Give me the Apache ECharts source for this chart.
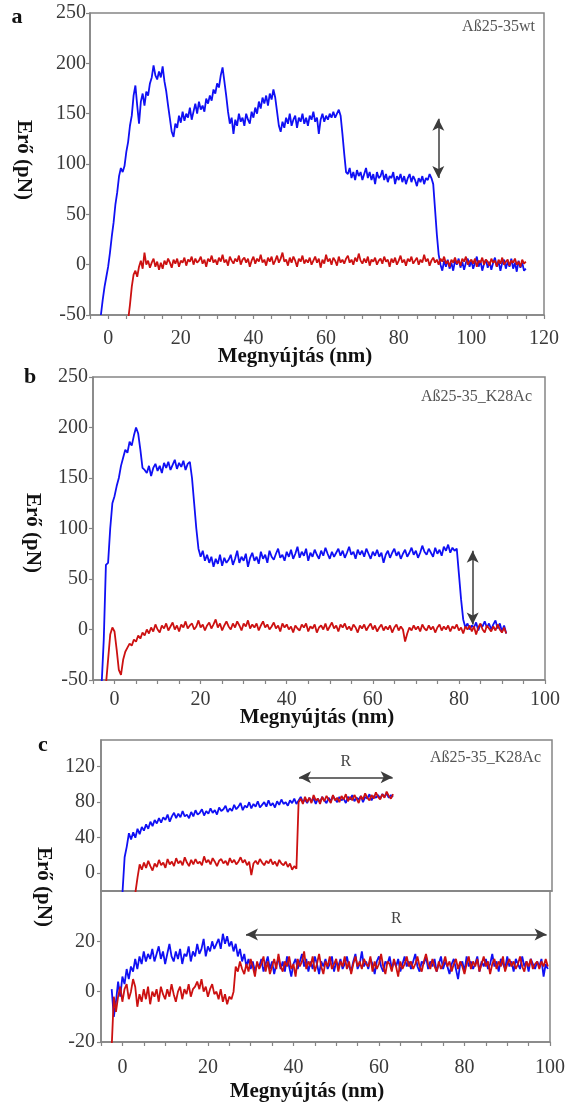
<!DOCTYPE html>
<html>
<head>
<meta charset="utf-8">
<title>Erő – megnyújtás görbék</title>
<script src="https://cdn.jsdelivr.net/npm/echarts@6/dist/echarts.min.js"></script>
<style>
  html, body { margin: 0; padding: 0; background: #ffffff; }
  #chart { width: 568px; height: 1105px; }
</style>
</head>
<body>
<div id="chart"></div>
<script>
// Force (pN) versus extension (nm) traces, sampled on a uniform extension grid.
// Each trace: start extension, step (nm) and the force readings.

// --- Panel a: Aß25-35wt ---
const aBlueStart = -2, aBlueStep = 0.5;
const aBlue = [
  -50,-35,-22,-12,-2,12,28,42,60,72,
  88,96,92,98,112,122,138,148,168,178,
  158,140,162,170,158,172,168,180,186,198,
  188,184,192,186,197,182,172,158,145,132,
  127,140,136,148,141,152,143,150,146,156,
  144,152,160,150,162,154,158,152,165,160,
  168,163,174,170,180,176,188,196,182,168,
  152,140,146,130,144,138,150,142,146,138,
  150,144,140,152,146,156,150,162,155,166,
  160,168,158,170,164,174,166,152,138,132,
  142,136,146,140,150,138,144,148,136,146,
  142,150,140,146,138,148,144,152,142,146,
  130,144,150,142,148,144,150,146,152,146,
  150,154,148,130,110,92,90,96,86,92,
  84,94,88,92,84,90,96,86,92,84,
  90,80,92,86,88,94,84,90,82,88,
  86,92,80,88,84,90,82,88,80,86,
  90,82,88,84,78,86,82,88,80,86,
  84,90,86,80,55,30,10,0,-6,4,
  -2,5,-4,2,-6,4,0,6,-3,3,
  -5,2,6,-2,4,-4,2,8,-2,4,
  -6,1,5,-3,3,-5,2,7,-2,3,
  -6,2,5,-4,3,-2,6,-4,2,-7,
  4,-3,2,-6,-4
];
const aRedStart = 5.5, aRedStep = 0.5;
const aRed = [
  -55,-40,-22,-10,-6,-12,-2,4,-4,12,
  0,4,-3,2,6,-2,3,-5,2,-4,
  4,0,6,2,-3,5,1,6,-2,4,
  2,7,-1,5,3,8,0,6,2,4,
  8,1,5,-2,6,3,9,2,5,0,
  7,3,10,2,5,-1,8,4,1,6,
  3,9,0,5,7,2,6,-2,4,8,
  1,6,3,10,2,5,-1,7,3,8,
  0,4,9,2,6,12,3,5,-1,7,
  2,8,4,-2,6,3,9,1,5,2,
  7,0,4,8,2,6,-3,5,1,10,
  3,6,0,7,4,-1,8,2,5,1,
  6,9,2,5,0,7,3,11,4,1,
  6,2,8,-1,5,3,7,0,4,6,
  1,8,3,5,-2,6,2,7,0,4,
  9,2,5,-1,6,3,8,1,4,7,
  0,5,2,10,3,6,-1,4,7,2,
  5,0,6,3,8,1,4,-2,5,2,
  7,1,4,-1,6,3,8,0,3,5,
  1,6,-2,4,2,7,0,5,3,-1,
  6,2,4,-2,5,1,7,0,3,5,
  -1,4,2,6,0,3,-2,5,1,3
];

// --- Panel b: Aß25-35_K28Ac ---
const bBlueStart = -3, bBlueStep = 0.5;
const bBlue = [
  -55,-10,64,66,100,125,132,142,150,162,
  170,178,175,186,182,192,200,194,178,160,
  158,155,162,152,160,164,157,162,155,165,
  160,166,158,163,168,159,165,161,167,158,
  164,166,150,125,100,80,72,78,68,74,
  66,72,62,70,65,74,63,71,66,69,
  74,64,70,78,66,72,68,75,62,71,
  76,68,72,65,77,70,74,66,78,72,
  69,75,80,71,74,68,77,72,79,70,
  75,82,71,77,73,80,68,76,72,79,
  74,70,78,73,81,75,70,77,72,76,
  80,73,78,71,76,82,74,77,70,79,
  74,78,72,80,75,70,77,73,79,72,
  76,66,74,78,71,76,80,73,77,70,
  75,79,72,76,81,74,78,71,76,83,
  77,74,80,76,72,81,75,79,73,82,
  78,84,76,81,78,80,55,30,10,2,
  6,0,4,2,7,-1,5,3,8,2,
  6,0,5,9,1,6,-2,4,-4
];
const bRedStart = -2, bRedStep = 0.5;
const bRed = [
  -55,-30,-5,2,-2,-20,-40,-45,-30,-22,
  -18,-14,-16,-10,-12,-6,-9,-3,-6,0,
  -4,2,-2,5,0,-3,4,1,6,-1,
  3,7,0,4,-2,5,2,8,1,4,
  6,0,3,9,2,5,-1,4,7,1,
  5,10,2,6,-1,4,8,3,0,6,
  2,8,4,-1,6,3,9,1,5,2,
  6,-1,4,8,2,5,0,3,7,1,
  4,-2,6,2,5,0,3,-3,4,1,
  -1,5,2,6,-2,3,1,5,-3,2,
  4,0,6,-1,3,7,1,4,-2,5,
  2,6,0,3,-1,5,2,-3,4,1,
  5,-1,3,6,0,4,-2,2,5,-1,
  3,0,4,-3,2,5,-1,3,0,-12,
  -4,2,-1,4,0,3,-2,5,1,-1,
  4,0,3,-3,2,5,-1,3,0,4,
  -2,3,1,5,-1,2,-4,3,0,4,
  -2,3,-5,2,6,0,-3,4,1,-2,
  3,-1,5,0,-3,2,-4
];

// --- Panel c, upper part ---
const cUpBlueStart = 0, cUpBlueStep = 0.5;
const cUpBlue = [
  -22,18,30,45,38,46,40,50,44,52,
  48,55,50,58,53,60,56,62,57,63,
  60,66,58,64,68,62,67,63,70,64,
  66,62,69,64,71,66,68,72,65,70,
  67,73,68,71,66,74,70,72,76,69,
  73,70,77,72,75,79,71,76,74,80,
  73,78,75,81,74,77,80,75,82,76,
  79,74,81,77,83,78,80,76,82,79,
  84,78,82,86,80,83,79,85,81,84,
  78,84,80,86,82,79,85,81,87,83,
  80,86,82,84,79,86,83,88,81,85,
  83,87,80,86,84,89,82,87,85,88,
  84,89,86,90,85,88,86
];
const cUpRedStart = 3, cUpRedStep = 0.5;
const cUpRed = [
  -22,-5,10,4,12,6,14,8,3,11,
  7,15,9,12,6,16,10,13,8,17,
  11,14,9,18,12,8,15,10,16,11,
  13,9,19,12,15,10,17,13,8,14,
  16,11,14,9,17,12,15,10,13,18,
  12,15,9,13,-2,11,14,10,16,12,
  9,14,11,16,10,13,8,15,11,9,
  13,7,11,4,8,5,80,84,78,86,
  80,85,79,88,82,84,78,86,81,87,
  83,79,88,82,85,80,87,83,89,81,
  86,82,88,84,79,87,83,90,85,82,
  88,84,91,86,83,89,85,92,87,84,
  89
];

// --- Panel c, lower part ---
const cLoBlueStart = -2.5, cLoBlueStep = 0.5;
const cLoBlue = [
  1,-10,-4,4,-2,6,3,9,5,10,
  8,13,9,14,11,16,12,15,13,17,
  12,15,18,13,16,11,15,19,14,12,
  16,13,17,11,15,14,18,12,16,14,
  19,15,17,21,14,18,16,20,17,19,
  21,17,23,19,22,18,20,16,19,14,
  17,12,15,10,13,9,12,8,11,10,
  13,8,11,14,9,12,7,11,13,9,
  12,8,14,10,6,11,13,9,12,15,
  10,13,8,12,9,14,11,7,12,10,
  13,9,11,14,8,12,10,13,9,11,
  14,10,8,12,15,9,11,16,10,12,
  9,13,11,7,12,14,10,8,12,11,
  14,9,12,10,13,8,11,14,10,12,
  9,12,15,10,8,12,11,14,9,12,
  10,13,8,11,14,9,12,10,7,11,
  13,9,5,11,12,8,14,10,12,9,
  11,14,8,12,10,13,9,11,15,10,
  12,8,13,11,9,14,10,12,8,13,
  11,9,14,10,12,8,13,11,9,12,
  10,13,6,11,9
];
const cLoRedStart = -2.5, cLoRedStep = 0.5;
const cLoRed = [
  -22,-2,-8,-2,2,-4,1,3,-3,0,
  5,2,-6,-1,-4,1,-3,2,-5,0,
  -2,1,-4,2,-1,-3,1,-2,3,-1,
  -4,0,2,-3,1,-1,3,-2,1,2,
  4,1,5,0,2,-2,1,3,-1,0,
  -3,1,-4,-1,-5,-2,-3,0,10,8,
  12,9,7,11,8,13,10,6,12,9,
  11,14,8,12,7,10,13,9,15,10,
  8,12,10,14,9,11,6,13,10,12,
  16,9,12,10,14,8,11,15,10,7,
  12,10,14,9,11,13,8,12,10,14,
  9,12,7,11,14,10,12,9,13,11,
  10,14,8,12,9,11,15,10,7,12,
  11,8,13,10,6,12,9,11,14,10,
  12,9,11,14,10,8,12,15,11,9,
  13,10,8,12,9,11,14,10,12,8,
  11,13,9,12,10,7,11,14,9,12,
  10,13,8,11,14,10,12,7,11,13,
  9,12,10,14,8,11,13,10,12,9,
  11,14,10,8,12,10,13,9,11,12,
  9,12,10,13,10
];

// Double-headed arrows (extension, force in data units)
const arrowA = { x: 90.9, from: 145, to: 86 };
const arrowB = { x: 83.2, from: 78, to: 5 };
const rangeUp = { from: 41.1, to: 62.9, y: 108 };
const rangeLo = { from: 28.9, to: 99.2, y: 22.7 };

// Axis tick labels
const xLabelStep = 20;
const cUpYLabels = [0, 40, 80, 120];
const cLoYLabels = [-20, 0, 20];

const texts = {
  xName: 'Megnyújtás (nm)',
  yName: 'Erő (pN)',
  sampleA: 'Aß25-35wt',
  sampleB: 'Aß25-35_K28Ac',
  sampleC: 'Aß25-35_K28Ac',
  rangeMark: 'R'
};

// ---------------------------------------------------------------
const SERIF = '"Liberation Serif", "Times New Roman", serif';
const AXIS_GRAY = '#858585';
const LABEL_GRAY = '#3a3a3a';
const BLUE = '#1010f4';
const RED = '#cc1111';

function toPoints(start, step, ys) {
  return ys.map((y, i) => [start + i * step, y]);
}

function xAxis(gridIndex, max, margin, showLabels) {
  return {
    type: 'value', gridIndex, min: -5, max, interval: 5,
    axisLine: { show: true, onZero: false, lineStyle: { color: AXIS_GRAY, width: 1.5 } },
    axisTick: { show: showLabels, length: 4, inside: false, lineStyle: { color: AXIS_GRAY, width: 1.2 } },
    axisLabel: {
      show: showLabels, margin, color: LABEL_GRAY, fontFamily: SERIF, fontSize: 20,
      showMinLabel: true, showMaxLabel: true,
      formatter: v => (Math.round(v) % xLabelStep === 0 ? String(Math.round(v)) : '')
    },
    splitLine: { show: false }
  };
}

function yAxis(gridIndex, min, max, interval, margin, extra) {
  return Object.assign({
    type: 'value', gridIndex, min, max, interval,
    axisLine: { show: true, onZero: false, lineStyle: { color: AXIS_GRAY, width: 1.5 } },
    axisTick: { show: true, length: 4, lineStyle: { color: AXIS_GRAY, width: 1.2 } },
    axisLabel: { margin, color: LABEL_GRAY, fontFamily: SERIF, fontSize: 20 },
    splitLine: { show: false }
  }, extra || {});
}

function arrowLine(p1, p2, label) {
  return {
    silent: true,
    animation: false,
    symbol: ['arrow', 'arrow'],
    symbolSize: [9, 12],
    lineStyle: { color: '#3c3c3c', width: 1.5, type: 'solid' },
    label: label ? {
      show: true, position: 'middle', formatter: label, distance: 8,
      color: '#444', fontFamily: SERIF, fontSize: 16
    } : { show: false },
    emphasis: { disabled: true },
    data: [[{ coord: p1 }, { coord: p2 }]]
  };
}

function trace(idx, color, points, markLine) {
  const s = {
    type: 'line', xAxisIndex: idx, yAxisIndex: idx,
    data: points, showSymbol: false, symbol: 'none',
    clip: true, animation: false, silent: true,
    lineStyle: { color, width: 1.8 },
    itemStyle: { color }
  };
  if (markLine) s.markLine = markLine;
  return s;
}

const grids = [
  { left: 90, top: 13, width: 454, height: 302 },
  { left: 93, top: 377, width: 452, height: 303 },
  { left: 101, top: 740, width: 451, height: 151 },
  { left: 101, top: 891, width: 451, height: 151 }
].map(g => Object.assign(g, { show: true, borderColor: AXIS_GRAY, borderWidth: 1.5, backgroundColor: 'transparent', containLabel: false }));

function txt(x, y, text, size, opts) {
  return Object.assign({
    type: 'text', x, y, silent: true,
    style: Object.assign({
      text, fontFamily: SERIF, fontSize: size, fill: '#111',
      align: 'center', verticalAlign: 'middle'
    }, (opts && opts.style) || {})
  }, (opts && opts.el) || {});
}

const option = {
  backgroundColor: '#ffffff',
  animation: false,
  grid: grids,
  xAxis: [
    xAxis(0, 120, 14, true),
    xAxis(1, 100, 10, true),
    xAxis(2, 100, 10, false),
    xAxis(3, 100, 16, true)
  ],
  yAxis: [
    yAxis(0, -50, 250, 50, 4),
    yAxis(1, -50, 250, 50, 5),
    yAxis(2, -20, 150, 20, 6, {
      axisTick: { show: true, length: 4, customValues: cUpYLabels, lineStyle: { color: AXIS_GRAY, width: 1.2 } },
      axisLabel: {
        margin: 6, color: LABEL_GRAY, fontFamily: SERIF, fontSize: 20, customValues: cUpYLabels,
        formatter: v => (cUpYLabels.indexOf(v) >= 0 ? String(v) : '')
      }
    }),
    yAxis(3, -20, 40, 20, 6, {
      axisTick: { show: true, length: 4, customValues: cLoYLabels, lineStyle: { color: AXIS_GRAY, width: 1.2 } },
      axisLabel: {
        margin: 6, color: LABEL_GRAY, fontFamily: SERIF, fontSize: 20, customValues: cLoYLabels,
        formatter: v => (cLoYLabels.indexOf(v) >= 0 ? String(v) : '')
      }
    })
  ],
  series: [
    trace(0, BLUE, toPoints(aBlueStart, aBlueStep, aBlue)),
    trace(0, RED, toPoints(aRedStart, aRedStep, aRed),
      arrowLine([arrowA.x, arrowA.from], [arrowA.x, arrowA.to])),
    trace(1, BLUE, toPoints(bBlueStart, bBlueStep, bBlue)),
    trace(1, RED, toPoints(bRedStart, bRedStep, bRed),
      arrowLine([arrowB.x, arrowB.from], [arrowB.x, arrowB.to])),
    trace(2, BLUE, toPoints(cUpBlueStart, cUpBlueStep, cUpBlue)),
    trace(2, RED, toPoints(cUpRedStart, cUpRedStep, cUpRed),
      arrowLine([rangeUp.from, rangeUp.y], [rangeUp.to, rangeUp.y], texts.rangeMark)),
    trace(3, BLUE, toPoints(cLoBlueStart, cLoBlueStep, cLoBlue)),
    trace(3, RED, toPoints(cLoRedStart, cLoRedStep, cLoRed),
      arrowLine([rangeLo.from, rangeLo.y], [rangeLo.to, rangeLo.y], texts.rangeMark))
  ],
  graphic: [
    // panel letters
    txt(17, 17, 'a', 22, { style: { fontWeight: 'bold' } }),
    txt(30, 377, 'b', 22, { style: { fontWeight: 'bold' } }),
    txt(43, 745, 'c', 22, { style: { fontWeight: 'bold' } }),
    // y axis titles
    txt(23, 160, texts.yName, 21, { style: { fontWeight: 'bold' }, el: { rotation: -Math.PI / 2 } }),
    txt(32, 533, texts.yName, 21, { style: { fontWeight: 'bold' }, el: { rotation: -Math.PI / 2 } }),
    txt(43, 887, texts.yName, 21, { style: { fontWeight: 'bold' }, el: { rotation: -Math.PI / 2 } }),
    // x axis titles
    txt(295, 357, texts.xName, 21, { style: { fontWeight: 'bold' } }),
    txt(317, 718, texts.xName, 21, { style: { fontWeight: 'bold' } }),
    txt(307, 1092, texts.xName, 21, { style: { fontWeight: 'bold' } }),
    // sample names
    txt(535, 27, texts.sampleA, 16, { style: { align: 'right', fill: '#555' } }),
    txt(532, 397, texts.sampleB, 16, { style: { align: 'right', fill: '#555' } }),
    txt(541, 758, texts.sampleC, 16, { style: { align: 'right', fill: '#555' } })
  ]
};

const chart = echarts.init(document.getElementById('chart'), null, { renderer: 'canvas' });
chart.setOption(option);
</script>
</body>
</html>
